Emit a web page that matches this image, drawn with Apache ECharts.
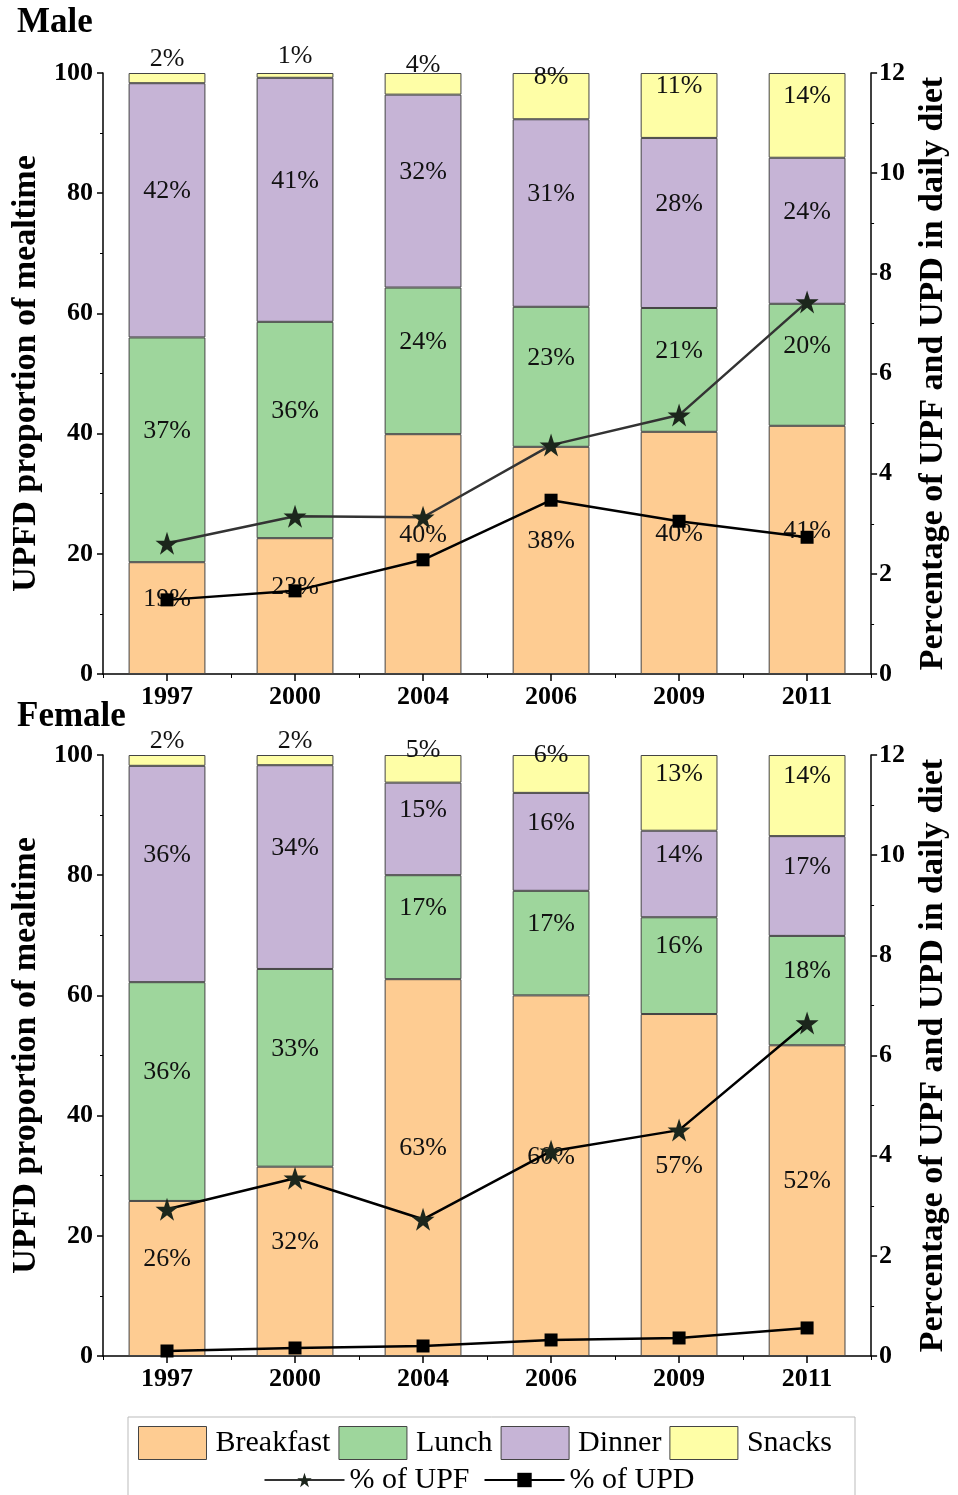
<!DOCTYPE html>
<html>
<head>
<meta charset="utf-8">
<script src="https://cdn.jsdelivr.net/npm/echarts@6/dist/echarts.min.js"></script>
<style>
html,body{margin:0;padding:0;background:#fff;}
#c{width:958px;height:1495px;}
</style>
</head>
<body>
<div id="c"></div>
<script>
const years = ['1997','2000','2004','2006','2009','2011'];

const maleBreakfast = [18.6, 22.6, 39.9, 37.8, 40.3, 41.3];
const maleLunch     = [37.4, 36.0, 24.4, 23.3, 20.6, 20.3];
const maleDinner    = [42.3, 40.6, 32.1, 31.2, 28.3, 24.3];
const maleSnacks    = [1.7, 0.8, 3.6, 7.7, 10.8, 14.1];
const maleUPF       = [2.61, 3.15, 3.13, 4.57, 5.17, 7.43];
const maleUPD       = [1.48, 1.66, 2.28, 3.47, 3.05, 2.73];

const femaleBreakfast = [25.8, 31.5, 62.7, 60.0, 56.9, 51.7];
const femaleLunch     = [36.4, 32.9, 17.3, 17.4, 16.1, 18.2];
const femaleDinner    = [36.0, 33.9, 15.4, 16.3, 14.4, 16.6];
const femaleSnacks    = [1.8, 1.7, 4.6, 6.3, 12.6, 13.5];
const femaleUPF       = [2.93, 3.55, 2.73, 4.09, 4.51, 6.65];
const femaleUPD       = [0.10, 0.16, 0.20, 0.32, 0.36, 0.56];

const leftTicks = {min: 0, max: 100, interval: 20};
const rightTicks = {min: 0, max: 12, interval: 2};

const FONT = '"Liberation Serif", "Times New Roman", serif';
const COLORS = {Breakfast: '#FECC92', Lunch: '#9ED69C', Dinner: '#C6B4D6', Snacks: '#FEFEA6'};
const STAR = 'path://M50,0 L61.8,35.1 L98.1,35.1 L68.8,56.9 L79.4,90.9 L50,69.1 L20.6,90.9 L31.2,56.9 L1.9,35.1 L38.2,35.1 Z';

const grids = [
  {left: 103, right: 85, top: 73, height: 601},
  {left: 103, right: 85, top: 755, height: 601}
];

function xAxes(gi) {
  return [
    {
      type: 'category', gridIndex: gi, data: years, boundaryGap: true,
      axisLine: {show: true, lineStyle: {color: '#000', width: 1.5}},
      axisTick: {show: true, alignWithLabel: true, length: 7, lineStyle: {color: '#000', width: 1.5}},
      axisLabel: {fontFamily: FONT, fontWeight: 'bold', fontSize: 26, color: '#000', margin: 10}
    },
    {
      type: 'category', gridIndex: gi, data: years, boundaryGap: true, position: 'bottom',
      axisLine: {show: false},
      axisTick: {show: true, length: 4, lineStyle: {color: '#000', width: 1}},
      axisLabel: {show: false}
    }
  ];
}

function yAxes(gi) {
  return [
    {
      type: 'value', gridIndex: gi, position: 'left',
      min: leftTicks.min, max: leftTicks.max, interval: leftTicks.interval,
      name: 'UPFD proportion of mealtime', nameLocation: 'middle', nameGap: 56,
      nameTextStyle: {fontFamily: FONT, fontWeight: 'bold', fontSize: 34, color: '#000'},
      axisLine: {show: true, lineStyle: {color: '#000', width: 1.5}},
      axisTick: {show: true, length: 6, lineStyle: {color: '#000', width: 1.5}},
      minorTick: {show: true, splitNumber: 2, length: 3, lineStyle: {color: '#000'}},
      splitLine: {show: false},
      axisLabel: {fontFamily: FONT, fontWeight: 'bold', fontSize: 26, color: '#000', margin: 10}
    },
    {
      type: 'value', gridIndex: gi, position: 'right',
      min: rightTicks.min, max: rightTicks.max, interval: rightTicks.interval,
      name: 'Percentage of UPF and UPD in daily diet', nameLocation: 'middle', nameGap: 42,
      nameRotate: 90,
      nameTextStyle: {fontFamily: FONT, fontWeight: 'bold', fontSize: 34, color: '#000'},
      axisLine: {show: true, lineStyle: {color: '#000', width: 1.5}},
      axisTick: {show: true, length: 6, lineStyle: {color: '#000', width: 1.5}},
      minorTick: {show: true, splitNumber: 2, length: 3, lineStyle: {color: '#000'}},
      splitLine: {show: false},
      axisLabel: {fontFamily: FONT, fontWeight: 'bold', fontSize: 26, color: '#000', margin: 8}
    }
  ];
}

function barSeries(name, data, gi) {
  return {
    name: name, type: 'bar', stack: 'g' + gi, data: data,
    xAxisIndex: gi * 2, yAxisIndex: gi * 2,
    barWidth: '60%',
    itemStyle: {color: COLORS[name], borderColor: '#444', borderWidth: 1},
    label: {
      show: true, position: 'inside', offset: [0, -19],
      fontFamily: FONT, fontSize: 26, color: '#111',
      formatter: p => Math.round(p.value) + '%'
    },
    emphasis: {disabled: true}
  };
}

function lineSeries(name, data, gi, star, color) {
  return {
    name: name, type: 'line', data: data, z: 5,
    xAxisIndex: gi * 2, yAxisIndex: gi * 2 + 1,
    symbol: star ? STAR : 'rect', symbolSize: star ? 23 : 13,
    showAllSymbol: true,
    lineStyle: {color: color, width: 2.5},
    itemStyle: {color: star ? '#1c261c' : '#000'},
    emphasis: {disabled: true}
  };
}

const series = [];
[
  [maleBreakfast, maleLunch, maleDinner, maleSnacks, maleUPF, maleUPD, '#333'],
  [femaleBreakfast, femaleLunch, femaleDinner, femaleSnacks, femaleUPF, femaleUPD, '#000']
].forEach((d, gi) => {
  series.push(barSeries('Breakfast', d[0], gi));
  series.push(barSeries('Lunch', d[1], gi));
  series.push(barSeries('Dinner', d[2], gi));
  series.push(barSeries('Snacks', d[3], gi));
  series.push(lineSeries('% of UPF', d[4], gi, true, d[6]));
  series.push(lineSeries('% of UPD', d[5], gi, false, '#000'));
});

const option = {
  animation: false,
  backgroundColor: '#fff',
  title: [
    {text: 'Male', left: 12, top: 0, textStyle: {fontFamily: FONT, fontWeight: 'bold', fontSize: 35, color: '#000'}},
    {text: 'Female', left: 12, top: 694, textStyle: {fontFamily: FONT, fontWeight: 'bold', fontSize: 35, color: '#000'}}
  ],
  grid: grids,
  xAxis: [...xAxes(0), ...xAxes(1)],
  yAxis: [...yAxes(0), ...yAxes(1)],
  legend: [
    {
      data: ['Breakfast', 'Lunch', 'Dinner', 'Snacks'],
      left: 133, top: 1421, itemWidth: 68, itemHeight: 33, itemGap: 8,
      icon: 'rect', selectedMode: false,
      itemStyle: {borderColor: '#444', borderWidth: 1},
      textStyle: {fontFamily: FONT, fontSize: 30, color: '#000', padding: [0, 0, 0, 4]}
    },
    {
      data: ['% of UPF', '% of UPD'],
      left: 'center', top: 1460, itemWidth: 80, itemHeight: 18, itemGap: 14,
      selectedMode: false,
      textStyle: {fontFamily: FONT, fontSize: 30, color: '#000'}
    }
  ],
  graphic: [
    {type: 'rect', shape: {x: 128, y: 1417, width: 727, height: 90}, style: {fill: 'none', stroke: '#bbb', lineWidth: 1}, z: -1}
  ],
  series: series
};

const chart = echarts.init(document.getElementById('c'), null, {renderer: 'canvas'});
chart.setOption(option);
</script>
</body>
</html>
